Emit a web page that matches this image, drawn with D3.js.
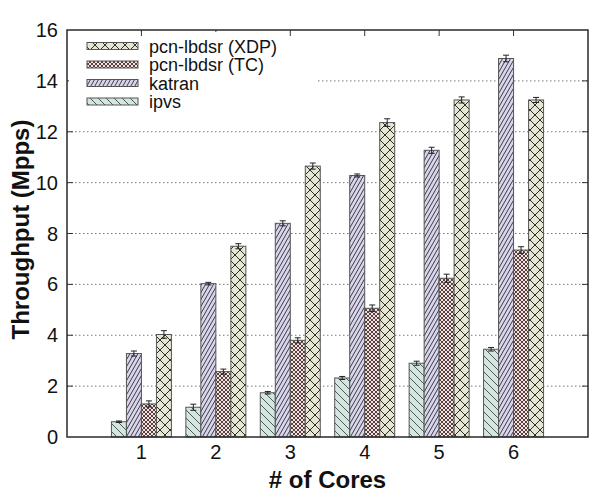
<!DOCTYPE html>
<html>
<head>
<meta charset="utf-8">
<script src="https://cdn.jsdelivr.net/npm/d3@7"></script>
<style>
  body { margin: 0; background: #fff; }
  text { font-family: "Liberation Sans", Arial, sans-serif; fill: #111; }
</style>
</head>
<body>
<div id="container"></div>
<script>
// data
let cores = [1, 2, 3, 4, 5, 6];
let seriesNames = ["ipvs", "katran", "pcn-lbdsr (TC)", "pcn-lbdsr (XDP)"];
let ipvs   = [0.60, 1.17, 1.74, 2.32, 2.90, 3.45];
let katran = [3.28, 6.03, 8.40, 10.28, 11.27, 14.88];
let tc     = [1.30, 2.57, 3.80, 5.06, 6.24, 7.35];
let xdp    = [4.03, 7.50, 10.65, 12.36, 13.25, 13.25];
let ipvsErr   = [0.03, 0.12, 0.05, 0.06, 0.08, 0.07];
let katranErr = [0.10, 0.05, 0.10, 0.06, 0.12, 0.13];
let tcErr     = [0.12, 0.10, 0.10, 0.13, 0.16, 0.13];
let xdpErr    = [0.15, 0.10, 0.12, 0.15, 0.12, 0.10];
let yTicks = [0, 2, 4, 6, 8, 10, 12, 14, 16];

let w = 591;
let h = 494;
let padLeft = 67, padRight = 588, padTop = 30, padBottom = 437;

let viz = d3.select("#container")
  .append("svg")
    .attr("width", w)
    .attr("height", h)
;

let xScale = d3.scaleLinear().domain([0, 7]).range([padLeft, padRight]);
let yScale = d3.scaleLinear().domain([0, 16]).range([padBottom, padTop]);
let inner = d3.scaleBand().domain(seriesNames).range([-30, 30]);

let allValues = [ipvs, katran, tc, xdp];
let allErrors = [ipvsErr, katranErr, tcErr, xdpErr];
let fills = ["#d3e6df", "#d9d6ea", "#f1e2e2", "#e5e6d3"];
let patIds = ["pIpvs", "pKatran", "pTc", "pXdp"];

// hatch patterns
let defs = viz.append("defs");
function hatch(id, pw, ph, bg, paths, stroke, sw){
  let p = defs.append("pattern").attr("id", id)
    .attr("patternUnits", "userSpaceOnUse")
    .attr("width", pw).attr("height", ph);
  p.append("rect").attr("width", pw).attr("height", ph).attr("fill", bg);
  paths.forEach(function(d){
    p.append("path").attr("d", d).attr("stroke", stroke)
      .attr("stroke-width", sw).attr("fill", "none");
  });
}
hatch("pIpvs", 8, 8, fills[0], ["M0,0 L8,8", "M-2,6 L2,10", "M6,-2 L10,2"], "#3d4a45", 0.9);
// katran stripes are a bit steeper than 45 degrees
hatch("pKatran", 4, 7, fills[1], ["M0,7 L4,0", "M-1,1.75 L1,-1.75", "M3,8.75 L5,5.25"], "#3b3a4a", 1);
hatch("pTc", 4, 4, fills[2], ["M0,0 L4,4", "M0,4 L4,0"], "#4a2e2e", 0.9);
hatch("pXdp", 10, 10, fills[3], ["M0,0 L10,10", "M0,10 L10,0"], "#2e2e24", 1);

// grid (the one at 14 is cut by the legend)
let grid = viz.append("g");
yTicks.filter(d => d > 0 && d < 16).forEach(function(t){
  grid.append("line")
    .attr("x1", t >= 14 ? 318 : padLeft).attr("x2", padRight)
    .attr("y1", yScale(t)).attr("y2", yScale(t))
    .attr("stroke", "#777").attr("stroke-width", 1)
    .attr("stroke-dasharray", "1.5,2.5");
});

// bars
let graphGroup = viz.append("g");
seriesNames.forEach(function(name, s){
  let g = graphGroup.append("g");
  g.selectAll("rect").data(cores).enter().append("rect")
    .attr("x", (d, i) => xScale(d) + inner(name))
    .attr("width", inner.bandwidth())
    .attr("y", (d, i) => yScale(allValues[s][i]))
    .attr("height", (d, i) => padBottom - yScale(allValues[s][i]))
    .attr("fill", "url(#" + patIds[s] + ")")
    .attr("stroke", "#555")
    .attr("stroke-width", 1);
  // error bars
  cores.forEach(function(c, i){
    let cx = xScale(c) + inner(name) + inner.bandwidth() / 2;
    let y1 = yScale(allValues[s][i] + allErrors[s][i]);
    let y2 = yScale(allValues[s][i] - allErrors[s][i]);
    g.append("path")
      .attr("d", "M" + (cx - 3) + "," + y1 + "H" + (cx + 3) + "M" + cx + "," + y1 + "V" + y2 + "M" + (cx - 3) + "," + y2 + "H" + (cx + 3))
      .attr("stroke", "#222").attr("stroke-width", 1).attr("fill", "none");
  });
});

// frame and ticks
let axes = viz.append("g");
yTicks.forEach(function(t){
  let y = yScale(t);
  if(t > 0 && t < 16){
    axes.append("line").attr("x1", padLeft).attr("x2", padLeft + 6).attr("y1", y).attr("y2", y).attr("stroke", "#333");
    axes.append("line").attr("x1", padRight).attr("x2", padRight - 6).attr("y1", y).attr("y2", y).attr("stroke", "#333");
  }
  axes.append("text")
    .attr("x", 58).attr("y", y + 7)
    .attr("text-anchor", "end")
    .attr("font-size", 20)
    .text(t);
});
cores.forEach(function(c){
  axes.append("line").attr("x1", xScale(c)).attr("x2", xScale(c))
    .attr("y1", padTop).attr("y2", padTop + 6).attr("stroke", "#333");
  axes.append("text")
    .attr("x", xScale(c)).attr("y", 459)
    .attr("text-anchor", "middle")
    .attr("font-size", 20)
    .text(c);
});

// legend
let legendOrder = [3, 2, 1, 0];
let legend = viz.append("g");
legend.append("rect").attr("x", 69).attr("y", 32).attr("width", 220).attr("height", 78).attr("fill", "#fff");
// top tick of core 1 stays visible above the legend
legend.append("line").attr("x1", xScale(1)).attr("x2", xScale(1)).attr("y1", padTop).attr("y2", padTop + 6).attr("stroke", "#333");
legendOrder.forEach(function(s, i){
  let cy = 46 + i * 18.5;
  legend.append("rect")
    .attr("x", 87).attr("y", cy - 3.5)
    .attr("width", 51).attr("height", 7)
    .attr("fill", "url(#" + patIds[s] + ")")
    .attr("stroke", "#555");
  legend.append("text")
    .attr("x", 149).attr("y", cy + 6.5)
    .attr("font-size", 18)
    .text(seriesNames[s]);
});

axes.append("rect")
  .attr("x", padLeft).attr("y", padTop)
  .attr("width", padRight - padLeft).attr("height", padBottom - padTop)
  .attr("fill", "none").attr("stroke", "#2a2a2a").attr("stroke-width", 1.5);

// axis titles
viz.append("text")
  .attr("x", (padLeft + padRight) / 2).attr("y", 488)
  .attr("text-anchor", "middle")
  .attr("font-size", 24).attr("font-weight", "bold")
  .text("# of Cores");
viz.append("text")
  .attr("transform", "translate(29," + ((padTop + padBottom) / 2 - 4) + ") rotate(-90)")
  .attr("text-anchor", "middle")
  .attr("font-size", 24).attr("font-weight", "bold")
  .text("Throughput (Mpps)");
</script>
</body>
</html>
